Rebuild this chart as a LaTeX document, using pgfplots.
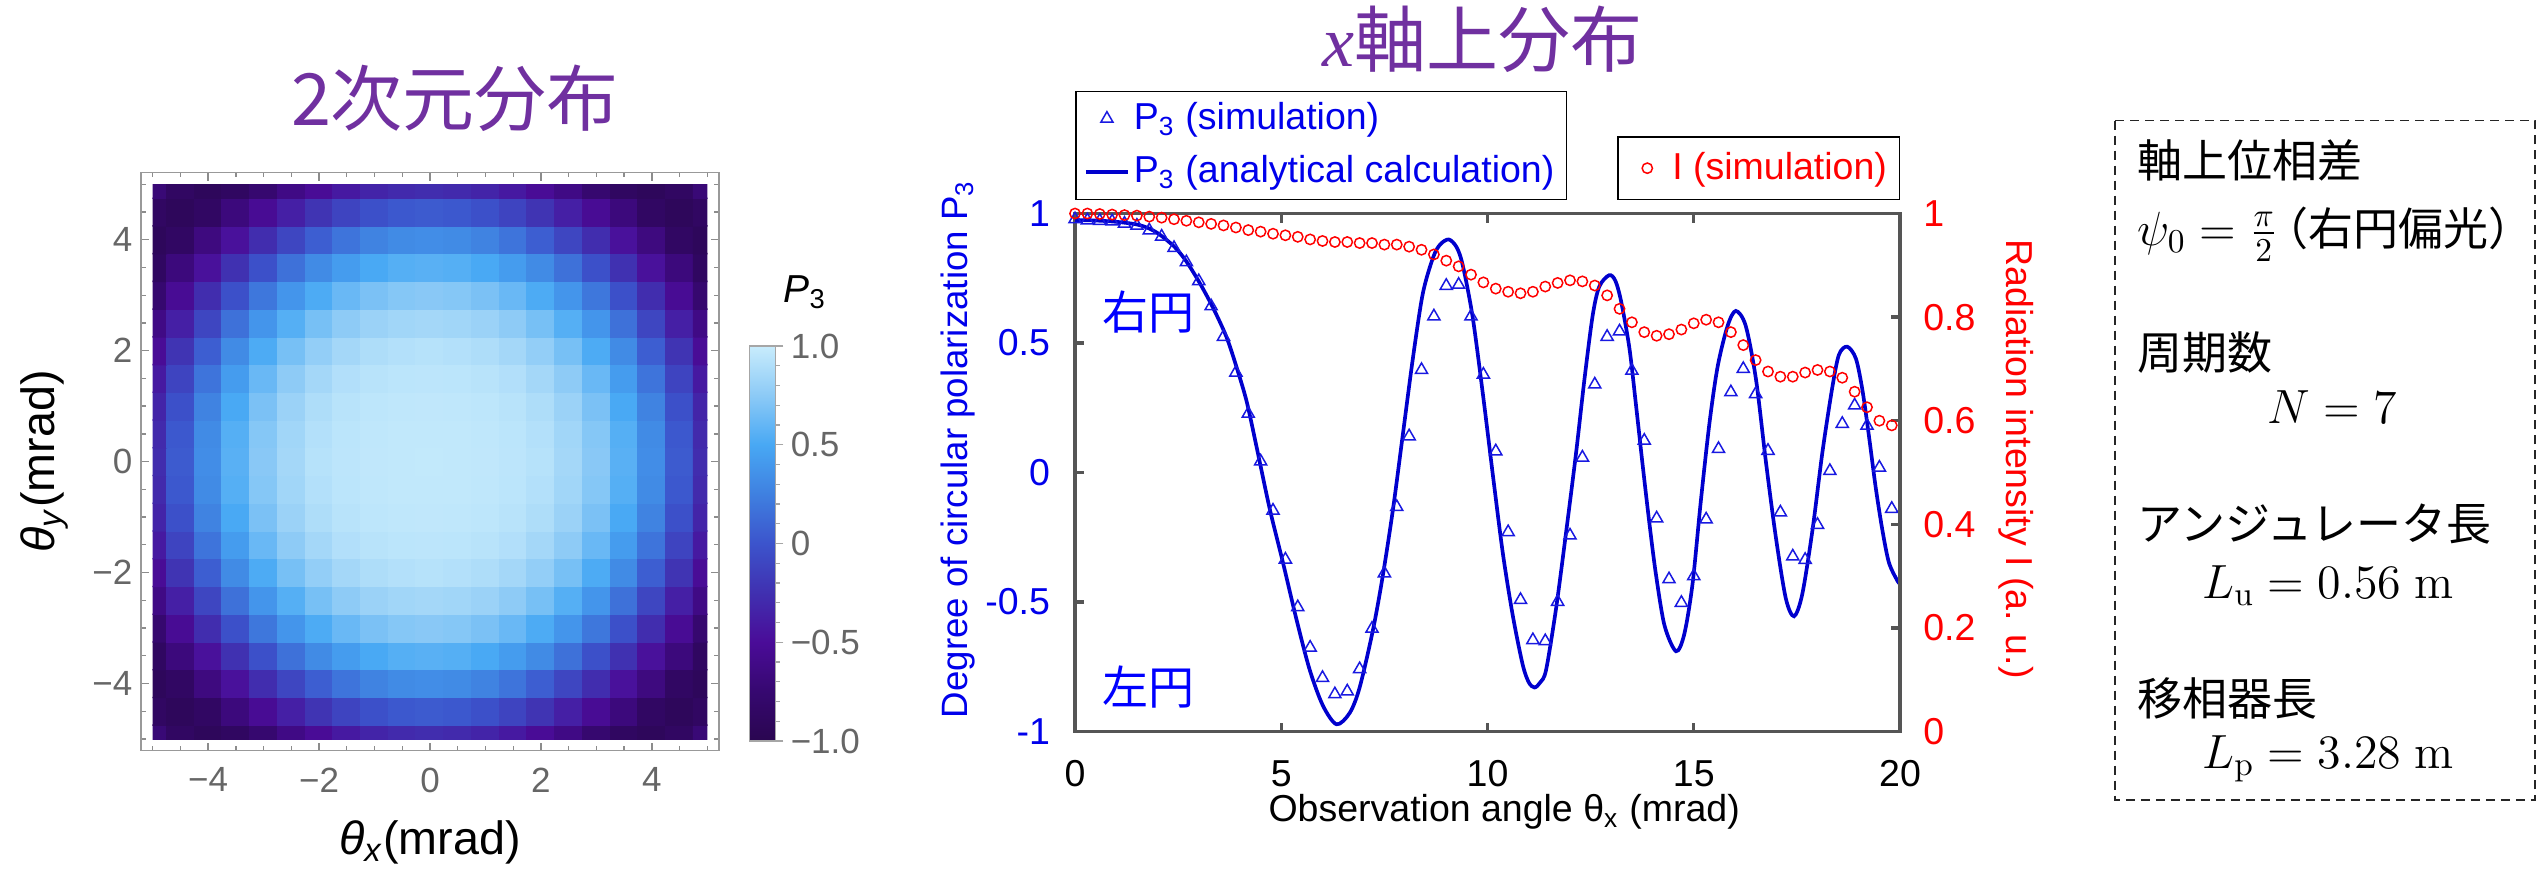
\documentclass[border=0pt]{standalone}
\usepackage{pgfplots}
\pgfplotsset{compat=1.18}
\usepackage[no-math]{fontspec}
\setmainfont{Liberation Sans}
\newfontfamily\cjk{Noto Sans CJK JP}
\newfontfamily\serifit{Liberation Serif}
\definecolor{ttl}{RGB}{112,48,160}
\definecolor{lineblue}{RGB}{0,0,205}
\definecolor{mkblue}{RGB}{25,25,225}
\definecolor{txtblue}{RGB}{0,0,235}
\definecolor{fr}{RGB}{85,85,85}
\newcommand{\fs}[1]{\fontsize{#1pt}{#1pt}\selectfont}
\pgfplotsset{
  markimg/.style={legend image code/.code={\path[draw=none,fill=none] (0pt,-1pt) rectangle (12.6pt,1pt); \draw[mark repeat=2,mark phase=2,##1] plot coordinates {(0pt,0pt) (6.3pt,0pt) (12.6pt,0pt)};}},
  lineimg/.style={legend image code/.code={\draw[##1] (0pt,0pt) -- (12.6pt,0pt);}},
}
\begin{document}
\begin{tikzpicture}
\useasboundingbox (0,0) rectangle (761.7pt,-260.4pt);

% ---------- heatmap frame ----------
\begin{axis}[
  at={(42.3pt,-225.18pt)}, anchor=south west, scale only axis,
  width=173.4pt, height=173.4pt,
  xmin=-5.21, xmax=5.21, ymin=-5.21, ymax=5.21,
  axis line style={draw=black!40, line width=0.45pt},
  tick align=inside, xtick pos=both, ytick pos=both,
  xtick={-4,-2,0,2,4}, ytick={-4,-2,0,2,4},
  xticklabels={−4,−2,0,2,4}, yticklabels={−4,−2,0,2,4},
  minor xtick={-5,-4.5,...,5}, minor ytick={-5,-4.5,...,5},
  major tick length=2.4pt, minor tick length=1.4pt,
  tick style={draw=black!45, line width=0.4pt},
  ticklabel style={font=\fs{10.5}, text=black!60, inner sep=0pt},
  xticklabel style={yshift=-4.9pt},
  yticklabel style={xshift=-2.4pt},
  xlabel={\textit{θ}\textsubscript{\textit{x}}(mrad)},
  ylabel={\textit{θ}\textsubscript{\textit{y}}(mrad)},
  xlabel style={font=\fs{14}, inner sep=0pt, at={([yshift=-20.7pt]axis description cs:0.5,0)}, anchor=north},
  ylabel style={font=\fs{14}, inner sep=0pt, at={([xshift=-21.6pt]axis description cs:0,0.5)}, anchor=south},
]
\end{axis}

% ---------- heatmap data ----------
\begin{axis}[
  at={(45.81pt,-221.7pt)}, anchor=south west, scale only axis,
  width=166.38pt, height=166.41pt,
  xmin=-5, xmax=5, ymin=-5, ymax=5, hide axis,
  colormap={p3}{rgb255=(42,6,80) rgb255=(54,8,112) rgb255=(74,12,152) rgb255=(64,48,176) rgb255=(60,84,204) rgb255=(63,128,224) rgb255=(72,168,244) rgb255=(140,202,246) rgb255=(200,236,252)},
  point meta min=-1, point meta max=1,
  colorbar,
  colorbar style={
    at={(parent axis.south east)}, anchor=south west, xshift=4pt, yshift=-0.6pt,
    scale only axis, width=7.8pt, height=118.5pt,
    ytick={-1,-0.5,0,0.5,1}, yticklabels={−1.0,−0.5,0,0.5,1.0},
    minor ytick={-0.9,-0.8,-0.7,-0.6,-0.4,-0.3,-0.2,-0.1,0.1,0.2,0.3,0.4,0.6,0.7,0.8,0.9},
    ytick pos=right, yticklabel pos=right, tick align=outside,
    major tick length=2.5pt, minor tick length=1.4pt,
    tick style={draw=black!35, line width=0.35pt},
    axis line style={draw=black!35, line width=0.35pt},
    yticklabel style={font=\fs{10.5}, text=black!60, inner sep=0pt, xshift=2pt},
  },
]
\addplot[matrix plot*, mesh/cols=21, point meta=explicit] table[row sep=\\, meta=c] {
x y c\\
-5 -5 -0.714\\ -4.5 -5 -0.858\\ -4 -5 -0.913\\ -3.5 -5 -0.869\\ -3 -5 -0.754\\ -2.5 -5 -0.619\\ -2 -5 -0.511\\ -1.5 -5 -0.410\\ -1 -5 -0.335\\ -0.5 -5 -0.289\\ 0 -5 -0.273\\ 0.5 -5 -0.289\\ 1 -5 -0.335\\ 1.5 -5 -0.410\\ 2 -5 -0.511\\ 2.5 -5 -0.619\\ 3 -5 -0.754\\ 3.5 -5 -0.869\\ 4 -5 -0.913\\ 4.5 -5 -0.858\\ 5 -5 -0.714\\
-5 -4.5 -0.858\\ -4.5 -4.5 -0.916\\ -4 -4.5 -0.855\\ -3.5 -4.5 -0.677\\ -3 -4.5 -0.524\\ -2.5 -4.5 -0.365\\ -2 -4.5 -0.225\\ -1.5 -4.5 -0.111\\ -1 -4.5 -0.027\\ -0.5 -4.5 0.025\\ 0 -4.5 0.043\\ 0.5 -4.5 0.025\\ 1 -4.5 -0.027\\ 1.5 -4.5 -0.111\\ 2 -4.5 -0.225\\ 2.5 -4.5 -0.365\\ 3 -4.5 -0.524\\ 3.5 -4.5 -0.677\\ 4 -4.5 -0.855\\ 4.5 -4.5 -0.916\\ 5 -4.5 -0.858\\
-5 -4 -0.913\\ -4.5 -4 -0.855\\ -4 -4 -0.654\\ -3.5 -4 -0.468\\ -3 -4 -0.273\\ -2.5 -4 -0.095\\ -2 -4 0.060\\ -1.5 -4 0.183\\ -1 -4 0.268\\ -0.5 -4 0.317\\ 0 -4 0.333\\ 0.5 -4 0.317\\ 1 -4 0.268\\ 1.5 -4 0.183\\ 2 -4 0.060\\ 2.5 -4 -0.095\\ 3 -4 -0.273\\ 3.5 -4 -0.468\\ 4 -4 -0.654\\ 4.5 -4 -0.855\\ 5 -4 -0.913\\
-5 -3.5 -0.869\\ -4.5 -3.5 -0.677\\ -4 -3.5 -0.468\\ -3.5 -3.5 -0.241\\ -3 -3.5 -0.027\\ -2.5 -3.5 0.165\\ -2 -3.5 0.317\\ -1.5 -3.5 0.428\\ -1 -3.5 0.506\\ -0.5 -3.5 0.549\\ 0 -3.5 0.563\\ 0.5 -3.5 0.549\\ 1 -3.5 0.506\\ 1.5 -3.5 0.428\\ 2 -3.5 0.317\\ 2.5 -3.5 0.165\\ 3 -3.5 -0.027\\ 3.5 -3.5 -0.241\\ 4 -3.5 -0.468\\ 4.5 -3.5 -0.677\\ 5 -3.5 -0.869\\
-5 -3 -0.754\\ -4.5 -3 -0.524\\ -4 -3 -0.273\\ -3.5 -3 -0.027\\ -3 -3 0.201\\ -2.5 -3 0.383\\ -2 -3 0.521\\ -1.5 -3 0.621\\ -1 -3 0.687\\ -0.5 -3 0.726\\ 0 -3 0.739\\ 0.5 -3 0.726\\ 1 -3 0.687\\ 1.5 -3 0.621\\ 2 -3 0.521\\ 2.5 -3 0.383\\ 3 -3 0.201\\ 3.5 -3 -0.027\\ 4 -3 -0.273\\ 4.5 -3 -0.524\\ 5 -3 -0.754\\
-5 -2.5 -0.619\\ -4.5 -2.5 -0.365\\ -4 -2.5 -0.095\\ -3.5 -2.5 0.165\\ -3 -2.5 0.383\\ -2.5 -2.5 0.549\\ -2 -2.5 0.674\\ -1.5 -2.5 0.760\\ -1 -2.5 0.813\\ -0.5 -2.5 0.839\\ 0 -2.5 0.849\\ 0.5 -2.5 0.839\\ 1 -2.5 0.813\\ 1.5 -2.5 0.760\\ 2 -2.5 0.674\\ 2.5 -2.5 0.549\\ 3 -2.5 0.383\\ 3.5 -2.5 0.165\\ 4 -2.5 -0.095\\ 4.5 -2.5 -0.365\\ 5 -2.5 -0.619\\
-5 -2 -0.511\\ -4.5 -2 -0.225\\ -4 -2 0.060\\ -3.5 -2 0.317\\ -3 -2 0.521\\ -2.5 -2 0.674\\ -2 -2 0.781\\ -1.5 -2 0.849\\ -1 -2 0.891\\ -0.5 -2 0.914\\ 0 -2 0.926\\ 0.5 -2 0.914\\ 1 -2 0.891\\ 1.5 -2 0.849\\ 2 -2 0.781\\ 2.5 -2 0.674\\ 3 -2 0.521\\ 3.5 -2 0.317\\ 4 -2 0.060\\ 4.5 -2 -0.225\\ 5 -2 -0.511\\
-5 -1.5 -0.410\\ -4.5 -1.5 -0.111\\ -4 -1.5 0.183\\ -3.5 -1.5 0.428\\ -3 -1.5 0.621\\ -2.5 -1.5 0.760\\ -2 -1.5 0.849\\ -1.5 -1.5 0.908\\ -1 -1.5 0.935\\ -0.5 -1.5 0.948\\ 0 -1.5 0.953\\ 0.5 -1.5 0.948\\ 1 -1.5 0.935\\ 1.5 -1.5 0.908\\ 2 -1.5 0.849\\ 2.5 -1.5 0.760\\ 3 -1.5 0.621\\ 3.5 -1.5 0.428\\ 4 -1.5 0.183\\ 4.5 -1.5 -0.111\\ 5 -1.5 -0.410\\
-5 -1 -0.335\\ -4.5 -1 -0.027\\ -4 -1 0.268\\ -3.5 -1 0.506\\ -3 -1 0.687\\ -2.5 -1 0.813\\ -2 -1 0.891\\ -1.5 -1 0.935\\ -1 -1 0.955\\ -0.5 -1 0.963\\ 0 -1 0.967\\ 0.5 -1 0.963\\ 1 -1 0.955\\ 1.5 -1 0.935\\ 2 -1 0.891\\ 2.5 -1 0.813\\ 3 -1 0.687\\ 3.5 -1 0.506\\ 4 -1 0.268\\ 4.5 -1 -0.027\\ 5 -1 -0.335\\
-5 -0.5 -0.289\\ -4.5 -0.5 0.025\\ -4 -0.5 0.317\\ -3.5 -0.5 0.549\\ -3 -0.5 0.726\\ -2.5 -0.5 0.839\\ -2 -0.5 0.914\\ -1.5 -0.5 0.948\\ -1 -0.5 0.963\\ -0.5 -0.5 0.972\\ 0 -0.5 0.973\\ 0.5 -0.5 0.972\\ 1 -0.5 0.963\\ 1.5 -0.5 0.948\\ 2 -0.5 0.914\\ 2.5 -0.5 0.839\\ 3 -0.5 0.726\\ 3.5 -0.5 0.549\\ 4 -0.5 0.317\\ 4.5 -0.5 0.025\\ 5 -0.5 -0.289\\
-5 0 -0.273\\ -4.5 0 0.043\\ -4 0 0.333\\ -3.5 0 0.563\\ -3 0 0.739\\ -2.5 0 0.849\\ -2 0 0.926\\ -1.5 0 0.953\\ -1 0 0.967\\ -0.5 0 0.973\\ 0 0 0.978\\ 0.5 0 0.973\\ 1 0 0.967\\ 1.5 0 0.953\\ 2 0 0.926\\ 2.5 0 0.849\\ 3 0 0.739\\ 3.5 0 0.563\\ 4 0 0.333\\ 4.5 0 0.043\\ 5 0 -0.273\\
-5 0.5 -0.289\\ -4.5 0.5 0.025\\ -4 0.5 0.317\\ -3.5 0.5 0.549\\ -3 0.5 0.726\\ -2.5 0.5 0.839\\ -2 0.5 0.914\\ -1.5 0.5 0.948\\ -1 0.5 0.963\\ -0.5 0.5 0.972\\ 0 0.5 0.973\\ 0.5 0.5 0.972\\ 1 0.5 0.963\\ 1.5 0.5 0.948\\ 2 0.5 0.914\\ 2.5 0.5 0.839\\ 3 0.5 0.726\\ 3.5 0.5 0.549\\ 4 0.5 0.317\\ 4.5 0.5 0.025\\ 5 0.5 -0.289\\
-5 1 -0.335\\ -4.5 1 -0.027\\ -4 1 0.268\\ -3.5 1 0.506\\ -3 1 0.687\\ -2.5 1 0.813\\ -2 1 0.891\\ -1.5 1 0.935\\ -1 1 0.955\\ -0.5 1 0.963\\ 0 1 0.967\\ 0.5 1 0.963\\ 1 1 0.955\\ 1.5 1 0.935\\ 2 1 0.891\\ 2.5 1 0.813\\ 3 1 0.687\\ 3.5 1 0.506\\ 4 1 0.268\\ 4.5 1 -0.027\\ 5 1 -0.335\\
-5 1.5 -0.410\\ -4.5 1.5 -0.111\\ -4 1.5 0.183\\ -3.5 1.5 0.428\\ -3 1.5 0.621\\ -2.5 1.5 0.760\\ -2 1.5 0.849\\ -1.5 1.5 0.908\\ -1 1.5 0.935\\ -0.5 1.5 0.948\\ 0 1.5 0.953\\ 0.5 1.5 0.948\\ 1 1.5 0.935\\ 1.5 1.5 0.908\\ 2 1.5 0.849\\ 2.5 1.5 0.760\\ 3 1.5 0.621\\ 3.5 1.5 0.428\\ 4 1.5 0.183\\ 4.5 1.5 -0.111\\ 5 1.5 -0.410\\
-5 2 -0.511\\ -4.5 2 -0.225\\ -4 2 0.060\\ -3.5 2 0.317\\ -3 2 0.521\\ -2.5 2 0.674\\ -2 2 0.781\\ -1.5 2 0.849\\ -1 2 0.891\\ -0.5 2 0.914\\ 0 2 0.926\\ 0.5 2 0.914\\ 1 2 0.891\\ 1.5 2 0.849\\ 2 2 0.781\\ 2.5 2 0.674\\ 3 2 0.521\\ 3.5 2 0.317\\ 4 2 0.060\\ 4.5 2 -0.225\\ 5 2 -0.511\\
-5 2.5 -0.619\\ -4.5 2.5 -0.365\\ -4 2.5 -0.095\\ -3.5 2.5 0.165\\ -3 2.5 0.383\\ -2.5 2.5 0.549\\ -2 2.5 0.674\\ -1.5 2.5 0.760\\ -1 2.5 0.813\\ -0.5 2.5 0.839\\ 0 2.5 0.849\\ 0.5 2.5 0.839\\ 1 2.5 0.813\\ 1.5 2.5 0.760\\ 2 2.5 0.674\\ 2.5 2.5 0.549\\ 3 2.5 0.383\\ 3.5 2.5 0.165\\ 4 2.5 -0.095\\ 4.5 2.5 -0.365\\ 5 2.5 -0.619\\
-5 3 -0.754\\ -4.5 3 -0.524\\ -4 3 -0.273\\ -3.5 3 -0.027\\ -3 3 0.201\\ -2.5 3 0.383\\ -2 3 0.521\\ -1.5 3 0.621\\ -1 3 0.687\\ -0.5 3 0.726\\ 0 3 0.739\\ 0.5 3 0.726\\ 1 3 0.687\\ 1.5 3 0.621\\ 2 3 0.521\\ 2.5 3 0.383\\ 3 3 0.201\\ 3.5 3 -0.027\\ 4 3 -0.273\\ 4.5 3 -0.524\\ 5 3 -0.754\\
-5 3.5 -0.869\\ -4.5 3.5 -0.677\\ -4 3.5 -0.468\\ -3.5 3.5 -0.241\\ -3 3.5 -0.027\\ -2.5 3.5 0.165\\ -2 3.5 0.317\\ -1.5 3.5 0.428\\ -1 3.5 0.506\\ -0.5 3.5 0.549\\ 0 3.5 0.563\\ 0.5 3.5 0.549\\ 1 3.5 0.506\\ 1.5 3.5 0.428\\ 2 3.5 0.317\\ 2.5 3.5 0.165\\ 3 3.5 -0.027\\ 3.5 3.5 -0.241\\ 4 3.5 -0.468\\ 4.5 3.5 -0.677\\ 5 3.5 -0.869\\
-5 4 -0.913\\ -4.5 4 -0.855\\ -4 4 -0.654\\ -3.5 4 -0.468\\ -3 4 -0.273\\ -2.5 4 -0.095\\ -2 4 0.060\\ -1.5 4 0.183\\ -1 4 0.268\\ -0.5 4 0.317\\ 0 4 0.333\\ 0.5 4 0.317\\ 1 4 0.268\\ 1.5 4 0.183\\ 2 4 0.060\\ 2.5 4 -0.095\\ 3 4 -0.273\\ 3.5 4 -0.468\\ 4 4 -0.654\\ 4.5 4 -0.855\\ 5 4 -0.913\\
-5 4.5 -0.858\\ -4.5 4.5 -0.916\\ -4 4.5 -0.855\\ -3.5 4.5 -0.677\\ -3 4.5 -0.524\\ -2.5 4.5 -0.365\\ -2 4.5 -0.225\\ -1.5 4.5 -0.111\\ -1 4.5 -0.027\\ -0.5 4.5 0.025\\ 0 4.5 0.043\\ 0.5 4.5 0.025\\ 1 4.5 -0.027\\ 1.5 4.5 -0.111\\ 2 4.5 -0.225\\ 2.5 4.5 -0.365\\ 3 4.5 -0.524\\ 3.5 4.5 -0.677\\ 4 4.5 -0.855\\ 4.5 4.5 -0.916\\ 5 4.5 -0.858\\
-5 5 -0.714\\ -4.5 5 -0.858\\ -4 5 -0.913\\ -3.5 5 -0.869\\ -3 5 -0.754\\ -2.5 5 -0.619\\ -2 5 -0.511\\ -1.5 5 -0.410\\ -1 5 -0.335\\ -0.5 5 -0.289\\ 0 5 -0.273\\ 0.5 5 -0.289\\ 1 5 -0.335\\ 1.5 5 -0.410\\ 2 5 -0.511\\ 2.5 5 -0.619\\ 3 5 -0.754\\ 3.5 5 -0.869\\ 4 5 -0.913\\ 4.5 5 -0.858\\ 5 5 -0.714\\
};
\end{axis}

% ---------- middle: left axis (P3) ----------
\begin{axis}[
  at={(322.5pt,-219.45pt)}, anchor=south west, scale only axis,
  width=247.5pt, height=155.4pt,
  xmin=0, xmax=20, ymin=-1, ymax=1,
  axis line style={draw=fr, line width=1pt},
  tick style={draw=fr, line width=1pt},
  tick align=inside, major tick length=2.7pt,
  xtick={0,5,10,15,20}, xticklabels={0,5,10,15,20}, xtick pos=both, xticklabel pos=lower,
  ytick={-1,-0.5,0,0.5,1}, yticklabels={-1,-0.5,0,0.5,1}, ytick pos=left,
  ticklabel style={font=\fs{11.25}, inner sep=0pt},
  xticklabel style={yshift=-8.5pt, text=black},
  yticklabel style={xshift=-7.3pt, text=txtblue},
  xlabel={Observation angle θ\textsubscript{x} (mrad)},
  xlabel style={font=\fs{11.25}, inner sep=0pt, at={([xshift=5pt,yshift=-18.75pt]axis description cs:0.5,0)}, anchor=north},
  ylabel={Degree of circular polarization P\textsubscript{3}},
  ylabel style={font=\fs{11}, text=txtblue, inner sep=0pt, at={([xshift=-29.7pt,yshift=7pt]axis description cs:0,0.5)}, anchor=south},
  legend cell align=left,
  legend style={at={(0,1)}, anchor=south west, yshift=4.05pt, draw=black, line width=0.45pt, fill=white,
    font=\fs{11.25}, text=txtblue, inner xsep=2.5pt, inner ysep=3pt, row sep=5.5pt,
    nodes={inner xsep=1.2pt, inner ysep=0.4pt}},
]
\addplot[only marks, mark=triangle, mark size=2.1pt, color=mkblue, mark options={line width=0.45pt}, markimg]
coordinates {(0,0.978)(0.3,0.974)(0.6,0.972)(0.9,0.970)(1.2,0.961)(1.5,0.953)(1.8,0.935)(2.1,0.911)(2.4,0.867)(2.7,0.812)(3,0.739)(3.3,0.642)(3.6,0.524)(3.9,0.386)(4.2,0.227)(4.5,0.043)(4.8,-0.147)(5.1,-0.336)(5.4,-0.520)(5.7,-0.676)(6,-0.793)(6.3,-0.856)(6.6,-0.845)(6.9,-0.759)(7.2,-0.603)(7.5,-0.389)(7.8,-0.133)(8.1,0.140)(8.4,0.396)(8.7,0.603)(9,0.721)(9.3,0.725)(9.6,0.603)(9.9,0.378)(10.2,0.082)(10.5,-0.230)(10.8,-0.492)(11.1,-0.647)(11.4,-0.651)(11.7,-0.499)(12,-0.243)(12.3,0.058)(12.6,0.340)(12.9,0.524)(13.2,0.545)(13.5,0.393)(13.8,0.123)(14.1,-0.177)(14.4,-0.412)(14.7,-0.503)(15,-0.400)(15.3,-0.181)(15.6,0.091)(15.9,0.310)(16.2,0.400)(16.5,0.303)(16.8,0.084)(17.1,-0.154)(17.4,-0.324)(17.7,-0.337)(18,-0.202)(18.3,0.006)(18.6,0.188)(18.9,0.259)(19.2,0.181)(19.5,0.019)(19.8,-0.140)};
\addlegendentry{P\textsubscript{3} (simulation)}
\addplot[color=lineblue, line width=1.1pt, smooth, lineimg]
coordinates {(0,0.975)(0.5,0.973)(1.0,0.968)(1.49,0.958)(1.8,0.942)(2.06,0.918)(2.42,0.870)(2.70,0.815)(3.03,0.730)(3.35,0.635)(3.67,0.524)(3.91,0.410)(4.16,0.275)(4.40,0.10)(4.72,-0.14)(5.04,-0.347)(5.37,-0.568)(5.69,-0.762)(6.01,-0.90)(6.34,-0.972)(6.66,-0.928)(6.90,-0.83)(7.22,-0.61)(7.46,-0.40)(7.71,-0.14)(7.95,0.15)(8.19,0.44)(8.43,0.69)(8.68,0.83)(8.85,0.88)(9.06,0.90)(9.25,0.87)(9.40,0.80)(9.64,0.60)(9.89,0.30)(10.13,-0.01)(10.37,-0.31)(10.61,-0.55)(10.85,-0.74)(11.00,-0.81)(11.14,-0.83)(11.28,-0.81)(11.42,-0.762)(11.66,-0.527)(11.90,-0.237)(12.15,0.08)(12.35,0.36)(12.55,0.607)(12.71,0.718)(12.95,0.762)(13.10,0.74)(13.24,0.66)(13.44,0.48)(13.60,0.26)(13.76,0.03)(13.92,-0.19)(14.08,-0.39)(14.29,-0.59)(14.57,-0.69)(14.77,-0.624)(14.97,-0.43)(15.17,-0.112)(15.38,0.19)(15.58,0.41)(15.82,0.566)(16.02,0.624)(16.26,0.566)(16.51,0.358)(16.75,0.04)(16.99,-0.25)(17.23,-0.485)(17.43,-0.555)(17.63,-0.47)(17.88,-0.22)(18.12,0.08)(18.36,0.33)(18.52,0.455)(18.72,0.486)(18.93,0.44)(19.09,0.317)(19.25,0.137)(19.41,-0.057)(19.57,-0.22)(19.73,-0.347)(19.93,-0.416)(20,-0.43)};
\addlegendentry{P\textsubscript{3} (analytical calculation)}
\end{axis}

% ---------- middle: right axis (I) ----------
\begin{axis}[
  at={(322.5pt,-219.45pt)}, anchor=south west, scale only axis,
  width=247.5pt, height=155.4pt,
  xmin=0, xmax=20, ymin=0, ymax=1,
  axis x line=none, axis y line*=right,
  axis line style={draw=fr, line width=1pt},
  tick style={draw=fr, line width=1pt},
  tick align=inside, major tick length=2.7pt,
  ytick={0,0.2,0.4,0.6,0.8,1}, yticklabels={0,0.2,0.4,0.6,0.8,1},
  yticklabel style={font=\fs{11.25}, text=red, inner sep=0pt, xshift=6.8pt},
  ylabel={Radiation intensity I (a. u.)},
  ylabel style={font=\fs{11.25}, text=red, inner sep=0pt, rotate=180, at={([xshift=29.4pt,yshift=4pt]axis description cs:1,0.5)}, anchor=south},
  legend cell align=left,
  legend style={at={(1,1)}, anchor=south east, yshift=4.05pt, draw=black, line width=0.45pt, fill=white,
    font=\fs{11.25}, text=red, inner xsep=2.5pt, inner ysep=3pt,
    nodes={inner xsep=1.2pt, inner ysep=1.5pt}},
]
\addplot[only marks, mark=o, color=red, mark size=1.55pt, mark options={line width=0.45pt}, markimg]
coordinates {(0,1.0)(0.3,1.0)(0.6,0.999)(0.9,0.998)(1.2,0.997)(1.5,0.996)(1.8,0.994)(2.1,0.992)(2.4,0.989)(2.7,0.986)(3,0.983)(3.3,0.980)(3.6,0.977)(3.9,0.973)(4.2,0.968)(4.5,0.965)(4.8,0.961)(5.1,0.958)(5.4,0.955)(5.7,0.950)(6,0.947)(6.3,0.945)(6.6,0.945)(6.9,0.943)(7.2,0.943)(7.5,0.940)(7.8,0.940)(8.1,0.936)(8.4,0.930)(8.7,0.921)(9,0.909)(9.3,0.898)(9.6,0.882)(9.9,0.867)(10.2,0.855)(10.5,0.849)(10.8,0.846)(11.1,0.849)(11.4,0.859)(11.7,0.866)(12,0.871)(12.3,0.869)(12.6,0.861)(12.9,0.842)(13.2,0.816)(13.5,0.790)(13.8,0.771)(14.1,0.764)(14.4,0.767)(14.7,0.776)(15,0.788)(15.3,0.795)(15.6,0.790)(15.9,0.771)(16.2,0.746)(16.5,0.717)(16.8,0.695)(17.1,0.685)(17.4,0.685)(17.7,0.693)(18,0.698)(18.3,0.695)(18.6,0.683)(18.9,0.656)(19.2,0.626)(19.5,0.600)(19.8,0.591)};
\addlegendentry{I (simulation)}
\end{axis}

% ---------- texts ----------
\begin{scope}[x=0.3pt, y=-0.3pt]
\node[font=\cjk\fs{21.6}, text=ttl, inner sep=0pt] at (455,98) {2次元分布};
\node[font=\cjk\fs{21.6}, text=ttl, inner sep=0pt] at (1482,39) {{\serifit\itshape x}軸上分布};
\node[anchor=base west, inner sep=0pt, font=\fs{11.7}] at (783,302) {\textit{P}\textsubscript{3}};
\node[anchor=west, inner sep=0pt, font=\cjk\fs{13.8}, text={rgb,255:red,0;green,0;blue,255}] at (1101.7,312) {右円};
\node[anchor=west, inner sep=0pt, font=\cjk\fs{13.8}, text={rgb,255:red,0;green,0;blue,255}] at (1101.7,687) {左円};
\draw[black!85, line width=0.45pt, dash pattern=on 2.7pt off 1.8pt] (2115,120.7) rectangle (2535,800);
\node[anchor=base west, inner sep=0pt, font=\cjk\fs{13.5}] at (2136.7,177.6) {軸上位相差};
\node[anchor=base west, inner sep=0pt, font=\fs{14.4}] at (2136.7,245) {$\psi_0=\frac{\pi}{2}$\,{\cjk\fs{13.5}\makebox[0.5em][r]{（}右円偏光\makebox[0.5em][l]{）}}};
\node[anchor=base west, inner sep=0pt, font=\cjk\fs{13.5}] at (2136.7,369.5) {周期数};
\node[anchor=base west, inner sep=0pt, font=\fs{14.4}] at (2266.7,423.7) {$N = 7$};
\node[anchor=base west, inner sep=0pt, font=\cjk\fs{13.5}] at (2136.7,540) {アンジュレータ長};
\node[anchor=base west, inner sep=0pt, font=\fs{14.4}] at (2201.7,598) {$L_{\mathrm{u}} = 0.56\ \mathrm{m}$};
\node[anchor=base west, inner sep=0pt, font=\cjk\fs{13.5}] at (2136.7,715) {移相器長};
\node[anchor=base west, inner sep=0pt, font=\fs{14.4}] at (2201.7,768) {$L_{\mathrm{p}} = 3.28\ \mathrm{m}$};
\end{scope}
\end{tikzpicture}
\end{document}
